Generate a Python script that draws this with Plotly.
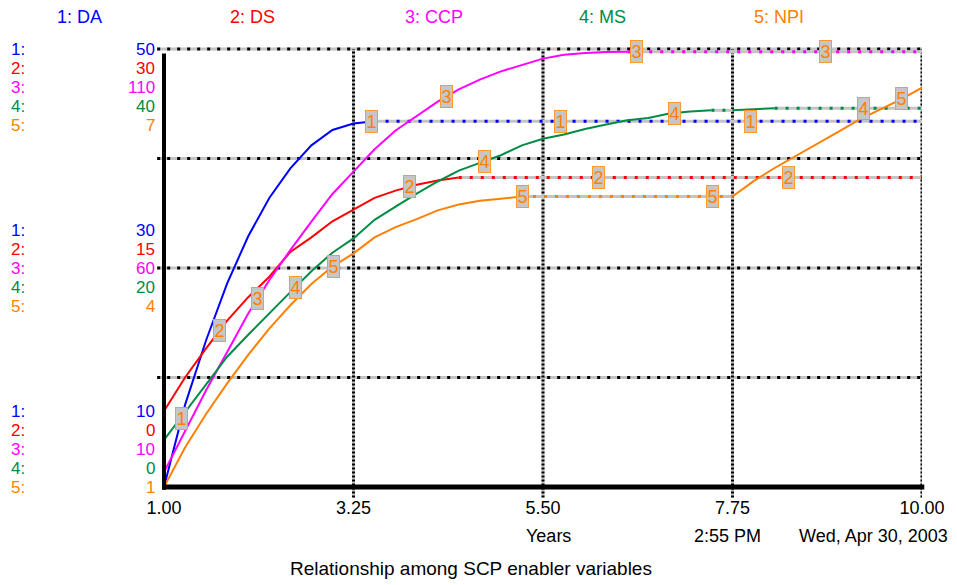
import numpy as np
import plotly.graph_objects as go

# ---------------- data ----------------
years = [1.00, 1.25, 1.50, 1.75, 2.00, 2.25, 2.50, 2.75, 3.00, 3.25, 3.50, 3.75,
         4.00, 4.25, 4.50, 4.75, 5.00, 5.25, 5.50, 5.75, 6.00, 6.25, 6.50, 6.75,
         7.00, 7.25, 7.50, 7.75, 8.00, 8.25, 8.50, 8.75, 9.00, 9.25, 9.50, 9.75, 10.00]

DA = [10.0, 17.5, 23.4, 28.6, 32.9, 36.4, 39.1, 41.2, 42.6, 43.2, 43.4, 43.4,
      43.4, 43.4, 43.4, 43.4, 43.4, 43.4, 43.4, 43.4, 43.4, 43.4, 43.4, 43.4,
      43.4, 43.4, 43.4, 43.4, 43.4, 43.4, 43.4, 43.4, 43.4, 43.4, 43.4, 43.4, 43.4]

DS = [5.2, 7.5, 9.5, 11.4, 13.0, 14.4, 16.1, 17.1, 18.2, 19.0, 19.8, 20.3,
      20.7, 21.0, 21.2, 21.2, 21.2, 21.2, 21.2, 21.2, 21.2, 21.2, 21.2, 21.2,
      21.2, 21.2, 21.2, 21.2, 21.2, 21.2, 21.2, 21.2, 21.2, 21.2, 21.2, 21.2, 21.2]

CCP = [13.4, 22.9, 32.1, 40.8, 49.6, 57.2, 64.1, 70.6, 76.9, 82.0, 87.1, 91.4,
       94.7, 98.0, 100.8, 103.0, 104.9, 106.4, 107.8, 108.7, 109.1, 109.3, 109.4, 109.4,
       109.4, 109.4, 109.4, 109.4, 109.4, 109.4, 109.4, 109.4, 109.4, 109.4, 109.4, 109.4, 109.4]

MS = [4.3, 6.8, 9.4, 11.9, 13.9, 15.9, 17.8, 19.7, 21.4, 22.7, 24.4, 25.6,
      26.8, 27.9, 28.9, 29.6, 30.3, 31.2, 31.8, 32.2, 32.7, 33.1, 33.5, 33.7,
      34.1, 34.3, 34.4, 34.4, 34.5, 34.6, 34.6, 34.6, 34.6, 34.6, 34.6, 34.6, 34.6]

NPI = [1.0, 1.54, 2.0, 2.42, 2.81, 3.17, 3.49, 3.78, 4.02, 4.20, 4.42, 4.56,
       4.67, 4.79, 4.87, 4.92, 4.95, 4.98, 4.98, 4.98, 4.98, 4.98, 4.98, 4.98,
       4.98, 4.98, 4.98, 4.98, 5.19, 5.37, 5.53, 5.70, 5.86, 6.03, 6.17, 6.31, 6.47]

series_names = ["DA", "DS", "CCP", "MS", "NPI"]
series_values = [DA, DS, CCP, MS, NPI]
axis_low = [10, 0, 10, 0, 1]
axis_high = [50, 30, 110, 40, 7]
tick_years = [1.00, 3.25, 5.50, 7.75, 10.00]
marker_first_year = [1.21, 1.66, 2.11, 2.56, 3.01]
marker_step_years = 2.25
marker_count = 4

header_text = [f"{i + 1}: {n}" for i, n in enumerate(series_names)]
x_title = "Years"
stamp_time = "2:55 PM"
stamp_date = "Wed, Apr 30, 2003"
chart_title = "Relationship among SCP enabler variables"

# ---------------- style ----------------
colors = ["#0000ff", "#ff0000", "#ff00ff", "#008c45", "#ff8000"]
FONT = "Liberation Sans, Arial, sans-serif"
W, H = 957, 585          # window size
PAGE = 8                 # default body margin of the html page
L, R, T, B = 164, 924, 49, 487   # plot area in window pixels
GRAY = "#c4c4c4"

fig = go.Figure()


def split_runs(t, v):
    """Split into moving (solid) and flat (dotted) runs."""
    solid_x, solid_y, flat_x, flat_y = [], [], [], []
    state = {"type": None, "x": [], "y": []}

    def flush():
        if not state["x"]:
            return
        if state["type"] == "flat":
            flat_x.extend(state["x"] + [None]); flat_y.extend(state["y"] + [None])
        else:
            solid_x.extend(state["x"] + [None]); solid_y.extend(state["y"] + [None])

    for i in range(len(t) - 1):
        typ = "flat" if v[i] == v[i + 1] else "solid"
        if typ != state["type"]:
            flush()
            state["type"], state["x"], state["y"] = typ, [t[i]], [v[i]]
        state["x"].append(t[i + 1]); state["y"].append(v[i + 1])
    flush()
    return solid_x, solid_y, flat_x, flat_y


def yname(i):
    return "y" if i == 0 else f"y{i + 1}"


parts = [split_runs(years, v) for v in series_values]

for i, (sx, sy, fx, fy) in enumerate(parts):
    if fx:
        fig.add_trace(go.Scatter(x=fx, y=fy, mode="lines", yaxis=yname(i),
                                 line=dict(color=GRAY, width=3),
                                 hoverinfo="skip", showlegend=False))
for i, (sx, sy, fx, fy) in enumerate(parts):
    if fx:
        fig.add_trace(go.Scatter(x=fx, y=fy, mode="lines", yaxis=yname(i),
                                 line=dict(color=colors[i], width=3, dash="3px,8px"),
                                 hoverinfo="skip", showlegend=False))
    if sx:
        fig.add_trace(go.Scatter(x=sx, y=sy, mode="lines", yaxis=yname(i),
                                 line=dict(color=colors[i], width=2),
                                 name=series_names[i], showlegend=False))

shapes = []
for frac in [0.25, 0.5, 0.75, 1.0]:
    for col, dash in [(GRAY, "solid"), ("black", "3px,7px")]:
        shapes.append(dict(type="line", xref="paper", yref="paper",
                           x0=-0.009, x1=1.0, y0=frac, y1=frac, layer="below",
                           line=dict(color=col, width=3, dash=dash)))
for ty in tick_years[1:]:
    for col, dash in [(GRAY, "solid"), ("black", "2px,2px")]:
        shapes.append(dict(type="line", xref="x", yref="paper",
                           x0=ty, x1=ty, y0=-0.024, y1=1.0, layer="below",
                           line=dict(color=col, width=3, dash=dash)))
shapes.append(dict(type="line", xref="paper", yref="paper", x0=0, x1=0,
                   y0=-0.006, y1=0.99, line=dict(color="black", width=4)))
shapes.append(dict(type="line", xref="paper", yref="paper", x0=-0.002, x1=1.003,
                   y0=0, y1=0, line=dict(color="black", width=5)))

ann = []
header_left_px = [55, 228, 403, 577, 752]
for i, txt in enumerate(header_text):
    ann.append(dict(text=txt, xref="paper", yref="paper", x=0, y=1,
                    xshift=header_left_px[i] - L, yshift=T - 17,
                    xanchor="left", yanchor="middle", showarrow=False,
                    font=dict(family=FONT, size=18, color=colors[i])))

for i in range(5):
    lo, hi = axis_low[i], axis_high[i]
    for level in range(3):
        val = lo + (hi - lo) * level / 2
        if level == 2:
            ys = -19 * i
        elif level == 1:
            ys = (2 - i) * 19
        else:
            ys = (4 - i) * 19
        ann.append(dict(text=f"{val:g}", xref="paper", yref=yname(i), x=0, y=val,
                        xshift=-8, yshift=ys, xanchor="right", yanchor="middle",
                        showarrow=False, borderpad=0,
                        font=dict(family=FONT, size=17, color=colors[i])))
        ann.append(dict(text=f"{i + 1}:", xref="paper", yref=yname(i), x=0, y=val,
                        xshift=10 - L, yshift=ys, xanchor="left", yanchor="middle",
                        showarrow=False, borderpad=0,
                        font=dict(family=FONT, size=17, color=colors[i])))

for i in range(5):
    for k in range(marker_count):
        t = marker_first_year[i] + k * marker_step_years
        yv = float(np.interp(t, years, series_values[i]))
        ann.append(dict(text=str(i + 1), xref="x", yref=yname(i), x=t, y=yv,
                        showarrow=False, xanchor="center", yanchor="middle",
                        width=11, height=21, borderpad=0, borderwidth=1,
                        bgcolor="#c6c6c6", bordercolor="#ff9a30",
                        font=dict(family=FONT, size=18, color="#ff8000")))

for txt, cx in [(x_title, 548), (stamp_time, 727), (stamp_date, 873)]:
    ann.append(dict(text=txt, xref="paper", yref="paper", x=0, y=0,
                    xshift=cx - L, yshift=B - 536, xanchor="center", yanchor="middle",
                    showarrow=False, font=dict(family=FONT, size=18, color="black")))
ann.append(dict(text=chart_title, xref="paper", yref="paper", x=0, y=0,
                xshift=471 - L, yshift=B - 568, xanchor="center", yanchor="middle",
                showarrow=False, font=dict(family=FONT, size=19, color="black")))

layout_axes = {}
for i in range(5):
    key = "yaxis" if i == 0 else f"yaxis{i + 1}"
    d = dict(range=[axis_low[i], axis_high[i]], visible=False, fixedrange=True,
             showgrid=False, zeroline=False)
    if i > 0:
        d["overlaying"] = "y"
    layout_axes[key] = d

fig.update_layout(
    width=W - PAGE, height=H - PAGE,
    margin=dict(l=L - PAGE, r=W - R, t=T - PAGE, b=H - B, pad=0),
    paper_bgcolor="white", plot_bgcolor="white",
    showlegend=False,
    xaxis=dict(range=[tick_years[0], tick_years[-1]], showgrid=False, zeroline=False,
               showline=False, tickvals=tick_years,
               ticktext=[f"{v:.2f}" for v in tick_years], ticks="",
               ticklabelstandoff=8,
               tickfont=dict(family=FONT, size=18, color="black")),
    shapes=shapes, annotations=ann,
    **layout_axes,
)

fig.write_html("out.html")
